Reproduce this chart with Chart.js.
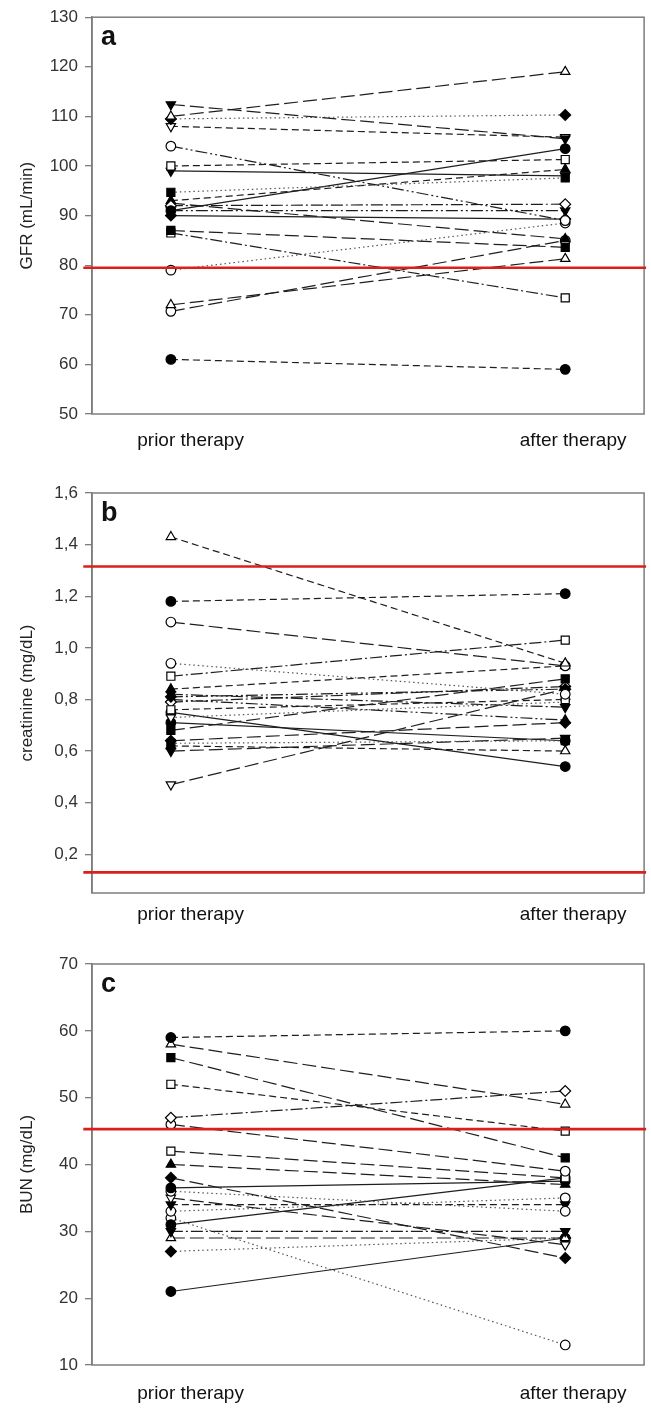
<!DOCTYPE html>
<html><head><meta charset="utf-8">
<script src="https://cdn.jsdelivr.net/npm/chart.js@4.4.0/dist/chart.umd.min.js"></script>
<style>
html,body{margin:0;padding:0;background:#fff;width:651px;height:1408px;overflow:hidden;position:relative}
canvas{position:absolute;left:0}
</style></head><body>
<canvas id="ca" width="651" height="460" style="top:0px"></canvas>
<canvas id="cb" width="651" height="480" style="top:460px"></canvas>
<canvas id="cc" width="651" height="468" style="top:940px"></canvas>
<script>
// ---------- data ----------
const xCategories = ['prior therapy', 'after therapy'];

// Panel a: GFR (mL/min)
const gfrPrior  = [112.4, 110, 109.5, 108, 104, 100, 99, 94.7, 91, 92, 91, 90, 93, 92.5, 87, 86.5, 79, 72, 70.7, 61];
const gfrAfter  = [105.5, 119, 110.3, 105.8, 89, 101.3, 98, 97.6, 103.5, 92.3, 91, 89.3, 99.3, 85.3, 83.6, 73.4, 88.5, 81.3, 85, 59];
const gfrMarker = ['fd','ot','fr','od','oc','os','fd','fs','fc','or','fd','fr','ft','ft','fs','os','oc','ot','oc','fc'];
const gfrLine   = ['long','long','dot','dash','dashdotdot','dash','solid','dot','solid','dashdot','dashdotdot','solid','dash','long','long','dashdot','dot','long','long','dash'];
const gfrTicks  = [50, 60, 70, 80, 90, 100, 110, 120, 130];
const gfrRef    = 79.5;

// Panel b: creatinine (mg/dL)
const creaPrior  = [1.43, 1.18, 1.10, 0.94, 0.89, 0.84, 0.82, 0.81, 0.76, 0.73, 0.75, 0.68, 0.64, 0.63, 0.60, 0.62, 0.47, 0.79, 0.71, 0.80];
const creaAfter  = [0.94, 1.21, 0.93, 0.82, 1.03, 0.93, 0.77, 0.84, 0.80, 0.79, 0.54, 0.88, 0.71, 0.64, 0.65, 0.60, 0.84, 0.85, 0.64, 0.72];
const creaMarker = ['ot','fc','oc','oc','os','ft','fd','fr','os','od','fc','fs','fr','fs','fd','ot','od','or','fc','ft'];
const creaLine   = ['dash','dash','long','dot','dashdot','dash','dashdot','dashdotdot','dash','dot','solid','long','long','dot','long','dash','long','dashdot','solid','dashdotdot'];
const creaTicks  = [0.2, 0.4, 0.6, 0.8, 1.0, 1.2, 1.4, 1.6];
const creaRefs   = [1.315, 0.13];

// Panel c: BUN (mg/dL)
const bunPrior  = [59, 58, 56, 52, 47, 46, 42, 40, 38, 36.5, 36, 35, 34, 33, 31, 30, 29, 27, 21, 32];
const bunAfter  = [60, 49, 41, 45, 51, 39, 38, 37, 26, 37.5, 33, 28, 34, 35, 38, 30, 29, 29, 29, 13];
const bunMarker = ['fc','ot','fs','os','or','oc','os','ft','fr','fc','oc','od','fd','oc','fc','fd','ot','fr','fc','oc'];
const bunLine   = ['dash','long','long','dash','dashdot','long','long','long','long','solid','dot','long','dash','dot','solid','dashdot','long','dot','solid','dot'];
const bunTicks  = [10, 20, 30, 40, 50, 60, 70];
const bunRef    = 45.3;

// ---------- styles ----------
const MARK = {
  fc:{style:'circle',rot:0,fill:true,r:4.8}, oc:{style:'circle',rot:0,fill:false,r:4.8},
  ft:{style:'triangle',rot:0,fill:true,r:5.4}, ot:{style:'triangle',rot:0,fill:false,r:5.4},
  fd:{style:'triangle',rot:180,fill:true,r:5.4}, od:{style:'triangle',rot:180,fill:false,r:5.4},
  fs:{style:'rect',rot:0,fill:true,r:5.7}, os:{style:'rect',rot:0,fill:false,r:5.7},
  fr:{style:'rectRot',rot:0,fill:true,r:5.4}, or:{style:'rectRot',rot:0,fill:false,r:5.4}
};
const DASH = {
  solid:[], dot:[1.5,3], dash:[7,4], long:[14,5],
  dashdot:[12,3,2,3], dashdotdot:[12,3,2,3,2,3]
};
const FONT = '"Liberation Sans", Arial, sans-serif';

function lineDatasets(prior, after, markers, lines){
  return prior.map((p,i)=>{
    const m = MARK[markers[i]];
    return {
      data:[{x:0,y:p},{x:1,y:after[i]}],
      showLine:true, borderColor: lines[i]==='dot' ? '#555' : '#1e1e1e', borderWidth:1.2,
      borderDash: DASH[lines[i]],
      pointStyle:m.style, rotation:m.rot, pointRadius:m.r,
      pointBackgroundColor: m.fill ? '#000' : '#fff', pointBorderColor:'#000', pointBorderWidth:1.2,
      order:2
    };
  });
}
function refDatasets(refs){
  return refs.map(v=>({
    data:[{x:-0.222,y:v},{x:1.205,y:v}], showLine:true, borderColor:'#d9201c', borderWidth:2.6,
    pointRadius:0, order:0, clip:false
  }));
}

const framePlugin = {
  id:'frame',
  beforeDatasetsDraw(chart, args, opts){
    const {ctx, chartArea:a} = chart;
    ctx.save();
    ctx.strokeStyle = '#7d7d7d'; ctx.lineWidth = 1.5;
    ctx.strokeRect(a.left, a.top, a.right-a.left, a.bottom-a.top);
    ctx.fillStyle = '#111'; ctx.font = 'bold 27px ' + FONT; ctx.textBaseline = 'alphabetic';
    ctx.fillText(opts.letter, a.left + 9, a.top + 28);
    ctx.restore();
  }
};

function makeChart(id, cfg){
  const xLabelPos = [0.05, 1.02];
  new Chart(document.getElementById(id), {
    type:'scatter',
    data:{ datasets: lineDatasets(cfg.prior, cfg.after, cfg.marker, cfg.line).concat(refDatasets(cfg.refs)) },
    plugins:[framePlugin],
    options:{
      responsive:false, animation:false, events:[],
      layout:{ padding:{ top:cfg.top, left:0, right:2, bottom:0 } },
      plugins:{ legend:{display:false}, tooltip:{enabled:false}, frame:{letter:cfg.letter} },
      scales:{
        x:{
          type:'linear', min:-0.2, max:1.2,
          grid:{ display:false, drawTicks:false, tickLength:0 },
          border:{ display:false },
          afterBuildTicks: s => { s.ticks = xLabelPos.map(v=>({value:v})); },
          afterFit: s => { s.height = cfg.xh; },
          ticks:{ padding:cfg.xpad, maxRotation:0, autoSkip:false, color:'#111', font:{family:FONT, size:19},
            callback:(v, i) => xCategories[i] }
        },
        y:{
          type:'linear', min:cfg.min, max:cfg.max,
          grid:{ drawOnChartArea:false, drawTicks:true, tickLength:7, color:'#7d7d7d', lineWidth:1.3 },
          border:{ display:true, color:'#7d7d7d', width:1.5 },
          afterBuildTicks: s => { s.ticks = cfg.ticks.map(v=>({value:v})); },
          afterFit: s => { s.width = 92; },
          ticks:{ padding:7, color:'#333', font:{family:FONT, size:17}, callback: cfg.fmt },
          title:{ display:true, text:cfg.title, color:'#222', font:{family:FONT, size:17}, padding:{top:17, bottom:0} }
        }
      }
    }
  });
}

makeChart('ca', {prior:gfrPrior, after:gfrAfter, marker:gfrMarker, line:gfrLine, refs:[gfrRef],
  ticks:gfrTicks, min:50, max:130, title:'GFR (mL/min)', letter:'a', top:15, xh:46, xpad:15,
  fmt: v => String(v)});
makeChart('cb', {prior:creaPrior, after:creaAfter, marker:creaMarker, line:creaLine, refs:creaRefs,
  ticks:creaTicks, min:0.05, max:1.6, title:'creatinine (mg/dL)', letter:'b', top:33, xh:47, xpad:10,
  fmt: v => v.toFixed(1).replace('.', ',')});
makeChart('cc', {prior:bunPrior, after:bunAfter, marker:bunMarker, line:bunLine, refs:[bunRef],
  ticks:bunTicks, min:10, max:70, title:'BUN (mg/dL)', letter:'c', top:24, xh:43, xpad:17,
  fmt: v => String(v)});
</script>
</body></html>
